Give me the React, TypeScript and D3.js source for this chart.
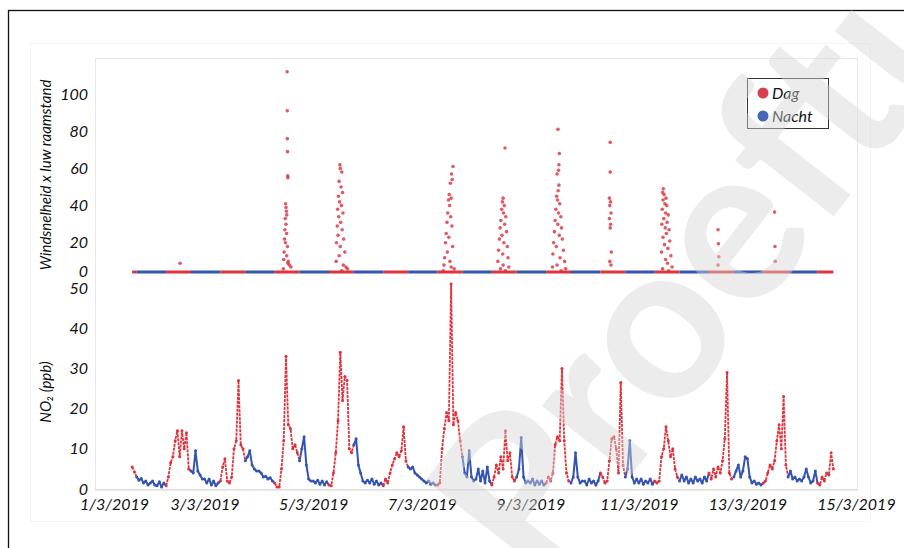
import * as d3 from "d3";
import { useEffect, useRef } from "react";

// x-as: datums
const tickDays = [1, 3, 5, 7, 9, 11, 13, 15];
const tickLabels = ["1/3/2019", "3/3/2019", "5/3/2019", "7/3/2019", "9/3/2019", "11/3/2019", "13/3/2019", "15/3/2019"];
const windTicks = [0, 20, 40, 60, 80, 100];
const no2Ticks = [0, 10, 20, 30, 40, 50];
const legendLabels = ["Dag", "Nacht"];

// NO2 (ppb), uurwaarden
const no2_0103 = [5.5, 4.2, 3.0, 2.2, 2.6, 1.5, 2.0, 1.0]; // vanaf 16:00
const no2_0203 = [1.5, 2.0, 1.0, 0.8, 1.8, 0.5, 1.5, 0.8, 3, 6.5, 8, 12, 14.5, 8, 14.5, 10, 14, 5, 4.5, 4, 9.5, 4.5, 3.5, 2.5];
const no2_0303 = [2.5, 1.5, 2.5, 1.0, 2, 0.8, 1.5, 2, 5.5, 7.5, 2, 1.5, 3, 10, 12, 27, 11, 10, 7, 8, 9.5, 6, 5, 4.5];
const no2_0403 = [4.5, 4, 3, 3.2, 2.5, 2.8, 2, 1.5, 0.5, 0.5, 5, 12, 33, 16, 15, 10, 11, 9, 7, 10, 13, 6, 2.5, 2];
const no2_0503 = [2, 1.5, 2.2, 1.2, 2, 1.0, 1.8, 1.0, 0.8, 4, 9, 17, 34, 22, 28, 27, 10, 9, 11, 12.5, 6, 4, 2, 1.5];
const no2_0603 = [2.2, 1.5, 2.5, 1.2, 2, 1.0, 1.5, 0.8, 2.5, 1.5, 4, 6, 7.5, 9, 8, 9.5, 15.5, 7, 5.5, 5, 5.5, 4, 3.5, 3];
const no2_0703 = [2.5, 2, 1.5, 2, 1.2, 1.5, 1.0, 1.0, 1.5, 10, 15, 19, 17, 51, 16, 19, 17, 12, 8, 4, 3, 9.5, 3, 2];
const no2_0803 = [2.5, 5, 2, 4.5, 1.5, 5.5, 2, 1.0, 3, 6, 4, 8, 5, 14.5, 7, 9, 3, 2, 3, 5, 12.8, 3, 1.5, 2];
const no2_0903 = [1.5, 2.5, 1, 2, 1.2, 2, 1, 1.5, 3, 2, 4, 11, 13, 12, 30, 12, 4, 2, 1.5, 3, 9, 3, 1.5, 2];
const no2_1003 = [2, 1, 2.5, 1.5, 2, 1, 2, 4, 3, 1.5, 2, 7, 12.5, 13, 10, 4, 26.5, 6, 3, 5, 12, 3, 1.5, 2.5];
const no2_1103 = [1.5, 2.5, 1.2, 2, 1.5, 2.5, 1.2, 2, 1.5, 2, 8, 10, 15.5, 12, 8, 10, 5, 3, 2, 3.5, 2, 3, 1.5, 2.5];
const no2_1203 = [1.5, 3, 2, 2.5, 1.5, 3, 2, 4, 2.5, 5, 3, 5.5, 4, 7, 12.5, 29, 4, 2.5, 3, 4.5, 6, 3, 4.5, 8];
const no2_1303 = [7.5, 3, 1.5, 2, 1.2, 1.5, 1, 1.5, 2, 4, 6, 5, 7, 12, 16, 10, 23, 6, 3, 4.5, 2.5, 3, 2, 2.5];
const no2_1403 = [2, 3, 5, 3, 1.5, 2, 4.5, 1.5, 1, 3, 2, 4, 3.5, 9, 5]; // tot 14:00

const no2Series = [
  { day: 1, startHour: 16, values: no2_0103 },
  { day: 2, startHour: 0, values: no2_0203 },
  { day: 3, startHour: 0, values: no2_0303 },
  { day: 4, startHour: 0, values: no2_0403 },
  { day: 5, startHour: 0, values: no2_0503 },
  { day: 6, startHour: 0, values: no2_0603 },
  { day: 7, startHour: 0, values: no2_0703 },
  { day: 8, startHour: 0, values: no2_0803 },
  { day: 9, startHour: 0, values: no2_0903 },
  { day: 10, startHour: 0, values: no2_1003 },
  { day: 11, startHour: 0, values: no2_1103 },
  { day: 12, startHour: 0, values: no2_1203 },
  { day: 13, startHour: 0, values: no2_1303 },
  { day: 14, startHour: 0, values: no2_1403 },
];

// windsnelheid x luw raamstand: rustwaarde en uitschieters
const windRest = 4.3;
const wind0203 = [["13:10", 9]];
const wind0403 = [["12:30", 112], ["12:35", 91], ["12:35", 76], ["12:40", 69], ["12:45", 56], ["12:50", 55], ["11:50", 41], ["12:00", 39], ["12:10", 37], ["12:20", 35], ["11:40", 33], ["12:00", 30], ["11:30", 27], ["12:15", 25], ["11:20", 22], ["11:45", 20], ["12:40", 18], ["11:10", 15], ["12:20", 13], ["11:00", 11], ["12:50", 9], ["13:30", 8], ["14:10", 7], ["10:50", 6], ["13:00", 10]];
const wind0503 = [["11:50", 62], ["12:00", 60], ["12:40", 58], ["11:30", 53], ["12:20", 50], ["13:00", 47], ["11:10", 45], ["11:40", 42], ["12:30", 40], ["10:50", 38], ["13:10", 36], ["11:20", 34], ["12:10", 31], ["10:40", 29], ["12:50", 27], ["11:00", 24], ["13:30", 22], ["10:20", 20], ["12:00", 18], ["14:00", 15], ["11:30", 13], ["10:10", 10], ["13:20", 8], ["14:30", 7], ["12:40", 5], ["15:10", 6]];
const wind0703 = [["13:50", 61], ["13:10", 57], ["13:30", 54], ["12:40", 52], ["12:10", 46], ["13:00", 44], ["11:50", 43], ["12:20", 40], ["11:30", 36], ["12:50", 34], ["11:10", 31], ["13:20", 29], ["10:50", 25], ["12:00", 23], ["10:30", 20], ["13:40", 18], ["11:20", 15], ["10:10", 12], ["12:30", 10], ["09:50", 8], ["13:00", 7], ["09:30", 5], ["14:20", 6]];
const wind0803 = [["12:50", 71], ["12:00", 44], ["11:40", 42], ["12:30", 40], ["11:20", 38], ["12:10", 36], ["13:10", 34], ["11:00", 32], ["12:40", 30], ["10:40", 28], ["13:30", 26], ["11:30", 24], ["10:20", 22], ["12:20", 20], ["13:50", 18], ["10:00", 16], ["11:50", 14], ["14:10", 12], ["09:40", 10], ["12:00", 8], ["14:30", 7], ["13:00", 5], ["10:50", 6]];
const wind0903 = [["12:15", 81], ["12:50", 68], ["12:40", 62], ["12:30", 59], ["11:50", 57], ["12:40", 51], ["12:20", 48], ["11:40", 45], ["12:00", 43], ["13:00", 41], ["11:20", 38], ["12:30", 36], ["13:30", 34], ["11:00", 32], ["12:10", 30], ["13:50", 28], ["10:40", 26], ["12:50", 24], ["14:10", 22], ["10:20", 20], ["11:30", 18], ["14:40", 16], ["10:00", 14], ["13:10", 12], ["15:10", 10], ["11:50", 8], ["15:40", 6], ["09:50", 7], ["13:40", 5]];
const wind1003 = [["11:20", 74], ["11:20", 58], ["11:00", 44], ["11:30", 42], ["11:10", 40], ["11:40", 36], ["11:00", 33], ["11:30", 30], ["11:20", 28], ["11:50", 15], ["11:10", 10], ["11:40", 8]];
const wind1103 = [["10:50", 49], ["10:30", 47], ["11:10", 46], ["12:00", 44], ["10:40", 43], ["11:30", 41], ["12:20", 40], ["10:20", 38], ["11:50", 36], ["13:00", 35], ["11:00", 33], ["12:30", 31], ["10:10", 30], ["11:40", 28], ["13:20", 27], ["12:10", 25], ["10:40", 23], ["13:40", 21], ["11:20", 19], ["12:50", 17], ["10:00", 15], ["14:10", 13], ["11:50", 11], ["12:40", 9], ["14:40", 7], ["13:10", 5], ["10:30", 6]];
const wind1203 = [["11:00", 27], ["11:10", 19.5], ["11:20", 12.5], ["11:00", 8]];
const wind1303 = [["12:00", 36.5], ["12:10", 18], ["12:20", 10]];

const windSeries = [
  { day: 2, points: wind0203 },
  { day: 4, points: wind0403 },
  { day: 5, points: wind0503 },
  { day: 7, points: wind0703 },
  { day: 8, points: wind0803 },
  { day: 9, points: wind0903 },
  { day: 10, points: wind1003 },
  { day: 11, points: wind1103 },
  { day: 12, points: wind1203 },
  { day: 13, points: wind1303 },
];

const RED = "#e0323c";
const BLUE = "#3454b2";
const FONT = "Lato, 'Open Sans', sans-serif";

const isDag = (d: Date) => d.getHours() >= 7 && d.getHours() < 18;

export default function App() {
  const svgRef = useRef<SVGSVGElement>(null);
  const svgWidth = 904,
    svgHeight = 548;

  useEffect(() => {
    const svg = d3.select(svgRef.current);
    svg.selectAll("*").remove();

    const x = d3
      .scaleTime()
      .domain([new Date(2019, 2, 1), new Date(2019, 2, 15)])
      .range([96, 856]);
    const yWind = d3.scaleLinear().domain([0, 100]).range([280, 94]);
    const yNo2 = d3.scaleLinear().domain([0, 50]).range([489, 288]);

    const no2Points = no2Series.flatMap((s) =>
      s.values.map((v, i) => ({ time: new Date(2019, 2, s.day, s.startHour + i), value: v }))
    );
    const windPoints = windSeries.flatMap((s) =>
      s.points.map(([t, v]) => {
        const [hh, mm] = (t as string).split(":").map(Number);
        return { time: new Date(2019, 2, s.day, hh, mm), value: v as number };
      })
    );

    // opeenvolgende stukken dag / nacht
    const runs = (pts: { time: Date; value: number }[]) => {
      const out: { dag: boolean; pts: { time: Date; value: number }[] }[] = [];
      for (let i = 0; i < pts.length - 1; i++) {
        const dag = isDag(pts[i].time);
        const last = out[out.length - 1];
        if (last && last.dag === dag) last.pts.push(pts[i + 1]);
        else out.push({ dag, pts: [pts[i], pts[i + 1]] });
      }
      return out;
    };

    // achtergrond / kaders
    svg
      .append("rect")
      .attr("x", 8.5)
      .attr("y", 10.5)
      .attr("width", 920)
      .attr("height", 560)
      .attr("fill", "#fff")
      .attr("stroke", "#111")
      .attr("stroke-width", 1.3);
    svg
      .append("rect")
      .attr("x", 30.5)
      .attr("y", 43.5)
      .attr("width", 840)
      .attr("height", 478)
      .attr("fill", "none")
      .attr("stroke", "#f4f4f4");
    svg
      .append("rect")
      .attr("x", 95.5)
      .attr("y", 58.5)
      .attr("width", 762)
      .attr("height", 431)
      .attr("fill", "none")
      .attr("stroke", "#e8e8e8");
    svg
      .append("line")
      .attr("x1", 95)
      .attr("x2", 858)
      .attr("y1", 490)
      .attr("y2", 490)
      .attr("stroke", "#d6d6d6");

    // y-assen
    const yAxisWind = svg
      .append("g")
      .attr("transform", "translate(95,0)")
      .call(d3.axisLeft(yWind).tickValues(windTicks).tickSize(0).tickPadding(7));
    yAxisWind
      .selectAll("text")
      .filter((d: any) => d === 0)
      .attr("transform", "translate(0,-9)");
    const yAxisNo2 = svg
      .append("g")
      .attr("transform", "translate(95,0)")
      .call(d3.axisLeft(yNo2).tickValues(no2Ticks).tickSize(0).tickPadding(7));

    const xAxis = svg
      .append("g")
      .attr("transform", "translate(0,490)")
      .call(
        d3
          .axisBottom(x)
          .tickValues(tickDays.map((d) => new Date(2019, 2, d)))
          .tickFormat((_, i) => tickLabels[i])
          .tickSize(0)
          .tickPadding(9)
      );
    xAxis
      .selectAll("text")
      .filter((_, i) => i === 0)
      .attr("dx", 18);

    [yAxisWind, yAxisNo2, xAxis].forEach((g) => {
      g.select(".domain").remove();
      g.selectAll("text")
        .attr("font-family", FONT)
        .attr("font-style", "italic")
        .attr("font-size", 16)
        .attr("fill", "#111");
    });

    // as-titels
    svg
      .append("text")
      .attr("transform", "translate(45,175) rotate(-90)")
      .attr("text-anchor", "middle")
      .attr("dominant-baseline", "central")
      .attr("font-family", FONT)
      .attr("font-style", "italic")
      .attr("font-size", 15)
      .attr("fill", "#111")
      .text("Windsnelheid x luw raamstand");
    svg
      .append("text")
      .attr("transform", "translate(45,392) rotate(-90)")
      .attr("text-anchor", "middle")
      .attr("dominant-baseline", "central")
      .attr("font-family", FONT)
      .attr("font-style", "italic")
      .attr("font-size", 15)
      .attr("fill", "#111")
      .text("NO₂ (ppb)");

    // bovenste paneel: rustlijn + uitschieters
    const restPoints = no2Points.map((p) => ({ time: p.time, value: windRest }));
    const lineWind = d3
      .line<{ time: Date; value: number }>()
      .x((d) => x(d.time))
      .y((d) => yWind(d.value));
    svg
      .append("g")
      .selectAll("path")
      .data(runs(restPoints))
      .join("path")
      .attr("d", (r) => lineWind(r.pts))
      .attr("fill", "none")
      .attr("stroke", (r) => (r.dag ? RED : BLUE))
      .attr("stroke-width", 3);
    svg
      .append("g")
      .selectAll("circle")
      .data(windPoints)
      .join("circle")
      .attr("cx", (d) => x(d.time))
      .attr("cy", (d) => yWind(d.value))
      .attr("r", 1.8)
      .attr("fill", "#d8303c")
      .attr("opacity", 0.8);

    // onderste paneel: NO2
    const lineNo2 = d3
      .line<{ time: Date; value: number }>()
      .x((d) => x(d.time))
      .y((d) => yNo2(d.value));
    svg
      .append("g")
      .selectAll("path")
      .data(runs(no2Points))
      .join("path")
      .attr("d", (r) => lineNo2(r.pts))
      .attr("fill", "none")
      .attr("stroke", (r) => (r.dag ? RED : BLUE))
      .attr("stroke-width", (r) => (r.dag ? 1.8 : 2))
      .attr("stroke-dasharray", (r) => (r.dag ? "3 1" : null))
      .attr("stroke-linejoin", "round");
    svg
      .append("g")
      .selectAll("circle")
      .data(no2Points)
      .join("circle")
      .attr("cx", (d) => x(d.time))
      .attr("cy", (d) => yNo2(d.value))
      .attr("r", 1.5)
      .attr("fill", (d) => (isDag(d.time) ? RED : BLUE));

    // legenda
    const legend = svg.append("g").attr("transform", "translate(747,78)");
    legend
      .append("rect")
      .attr("x", 0.5)
      .attr("y", 0.5)
      .attr("width", 81)
      .attr("height", 50)
      .attr("fill", "#fff")
      .attr("stroke", "#333");
    legendLabels.forEach((label, i) => {
      legend
        .append("circle")
        .attr("cx", 16)
        .attr("cy", 15 + i * 23)
        .attr("r", 5.5)
        .attr("fill", i === 0 ? "#d9404f" : "#4666b8");
      legend
        .append("text")
        .attr("x", 25)
        .attr("y", 15 + i * 23)
        .attr("dy", "0.35em")
        .attr("font-family", FONT)
        .attr("font-style", "italic")
        .attr("font-size", 16)
        .attr("fill", "#111")
        .text(label);
    });

    // watermerk
    svg
      .append("text")
      .attr("transform", "translate(540,592) rotate(-52)")
      .attr("font-family", FONT)
      .attr("font-weight", 700)
      .attr("font-size", 220)
      .attr("fill", "#d6d6d6")
      .attr("opacity", 0.45)
      .text("Proeftuin");
  }, []);

  return (
    <svg
      ref={svgRef}
      width={svgWidth}
      height={svgHeight}
      style={{ position: "absolute", left: 0, top: 0, display: "block" }}
    />
  );
}
